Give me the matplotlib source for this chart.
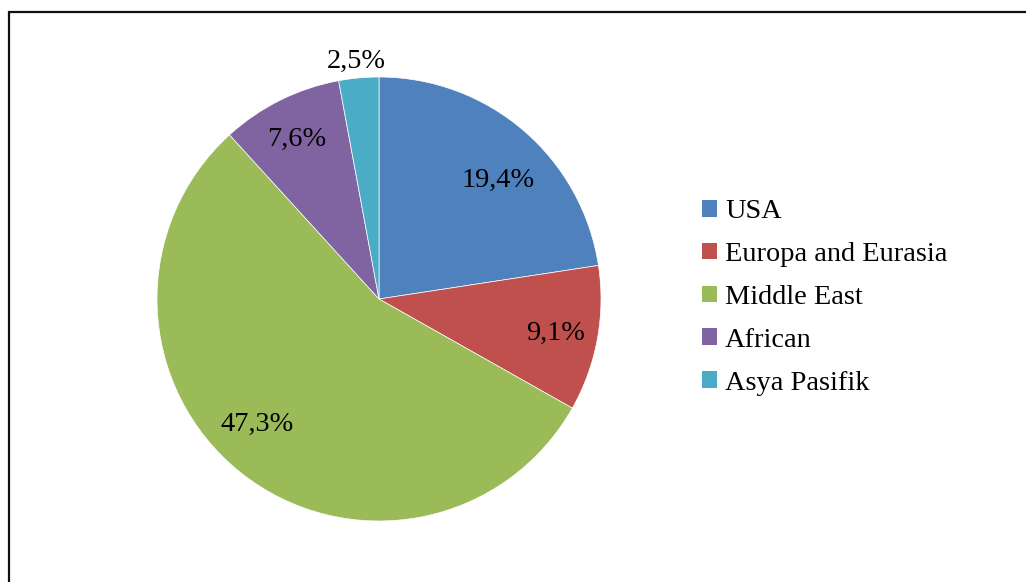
import matplotlib
matplotlib.use("Agg")
import matplotlib.pyplot as plt
from matplotlib.patches import Rectangle, Patch
import numpy as np

categories = ["USA", "Europa and Eurasia", "Middle East", "African", "Asya Pasifik"]
values = [19.4, 9.1, 47.3, 7.6, 2.5]
pct_labels = ["19,4%", "9,1%", "47,3%", "7,6%", "2,5%"]
colors = ["#4F81BD", "#C0504D", "#9BBB59", "#8064A2", "#4BACC6"]
# label placement (polar, relative to pie centre): angle in degrees, radius fraction
label_angle = [45.5, -10.2, -134.9, 116.8, 95.3]
label_dist = [0.765, 0.81, 0.776, 0.823, 1.09]

W, H = 1026, 582
fig = plt.figure(figsize=(W / 100, H / 100), dpi=100)
fig.patch.set_facecolor("white")

# outer border (left and top visible, rest cut off)
fig.patches.append(Rectangle((9 / W, -0.2), 2.0, 1.2 - 12 / H,
                             transform=fig.transFigure, fill=False,
                             edgecolor="#111111", linewidth=1.6))

cx, cy, r = 379, 299, 222
ax = fig.add_axes([(cx - r) / W, (H - cy - r) / H, 2 * r / W, 2 * r / H])
wedges, _ = ax.pie(values, colors=colors, startangle=90, counterclock=False,
                   radius=1.0, wedgeprops=dict(edgecolor="white", linewidth=0.5))
ax.set_xlim(-1, 1)
ax.set_ylim(-1, 1)
ax.set_aspect("equal")
ax.axis("off")

font = "Liberation Serif"
fs = 20.4
dy_fix = -3.0 / r  # small vertical correction (text box vs digit centre)
for lab, a, d in zip(pct_labels, label_angle, label_dist):
    ang = np.deg2rad(a)
    ax.text(d * np.cos(ang), d * np.sin(ang) + dy_fix, lab, ha="center", va="center",
            fontsize=fs, family=font, color="black")

handles = [Patch(facecolor=c, edgecolor="none") for c in colors]
leg = fig.legend(handles, categories, loc="center left",
                 bbox_to_anchor=(702 / W, 1 - 297.5 / H),
                 bbox_transform=fig.transFigure, frameon=False,
                 borderpad=0, borderaxespad=0,
                 handlelength=0.53, handleheight=0.53, handletextpad=0.28,
                 labelspacing=0.63, prop=dict(family=font, size=fs))

fig.savefig("out.png", dpi=100, facecolor="white")
